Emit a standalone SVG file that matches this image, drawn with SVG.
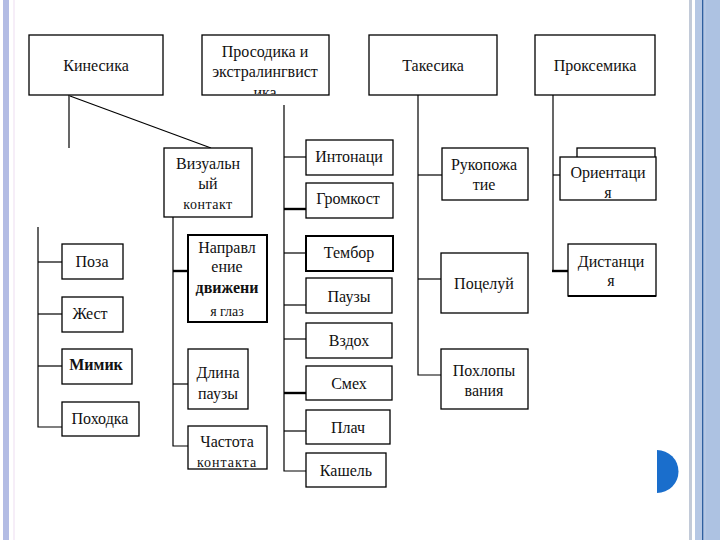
<svg xmlns="http://www.w3.org/2000/svg" width="720" height="540" viewBox="0 0 720 540">
<style>
.b{fill:#fff;stroke:#000;stroke-width:1.3}
.bt{fill:#fff;stroke:#000;stroke-width:2}
.t{font-family:'Liberation Serif','DejaVu Serif',serif;font-size:16px;fill:#111;text-anchor:middle}
.s{font-size:14px}
.c{stroke:#000;stroke-width:1.2;fill:none}
.ct{stroke:#000;stroke-width:2.4;fill:none}
</style>
<defs>
<clipPath id="clipPros"><rect x="202" y="35" width="127" height="59"/></clipPath>
</defs>
<rect x="0" y="0" width="720" height="540" fill="#fff"/>
<g id="frame">
<rect x="3" y="0" width="6" height="540" fill="#b3bce4"/>
<rect x="13" y="0" width="2" height="540" fill="#f6eef8"/>
<rect x="689" y="0" width="3" height="540" fill="#c2cad8"/>
<rect x="695" y="0" width="25" height="540" fill="#b5c7e4"/>
<rect x="702" y="0" width="1.3" height="540" fill="#2f5f9f"/>
<rect x="706" y="0" width="14" height="540" fill="#adc2e2"/>
<path d="M657,450 A21.5,21.5 0 0 1 657,493 Z" fill="#1a6ecc"/>
</g>
<g id="connectors">
<line class="c" x1="69" y1="95" x2="69" y2="148"/>
<line class="c" x1="70" y1="96" x2="211" y2="148"/>
<polyline class="c" points="38,227 38,427 62,427"/>
<line class="c" x1="38" y1="262" x2="62" y2="262"/>
<line class="c" x1="38" y1="314" x2="62" y2="314"/>
<line class="c" x1="38" y1="366" x2="62" y2="366"/>
<polyline class="c" points="173,217 173,446 188,446"/>
<line class="ct" x1="173" y1="271" x2="188" y2="271"/>
<line class="c" x1="173" y1="384" x2="188" y2="384"/>
<polyline class="c" points="284,105 284,471 306,471"/>
<line class="c" x1="284" y1="157" x2="306" y2="157"/>
<line class="ct" x1="284" y1="209" x2="315" y2="209"/>
<line class="c" x1="284" y1="253" x2="314" y2="253"/>
<line class="c" x1="284" y1="305" x2="306" y2="305"/>
<line class="c" x1="284" y1="339" x2="306" y2="339"/>
<line class="ct" x1="284" y1="393" x2="306" y2="393"/>
<line class="c" x1="284" y1="431" x2="306" y2="431"/>
<polyline class="c" points="418,95 418,375 441,375"/>
<line class="c" x1="418" y1="175" x2="442" y2="175"/>
<line class="c" x1="418" y1="279" x2="441" y2="279"/>
<polyline class="c" points="553,95 553,271"/>
<line class="c" x1="553" y1="175" x2="560" y2="175"/>
<line class="ct" x1="552" y1="271" x2="576" y2="271"/>
</g>
<g id="kinesika"><rect class="b" x="29" y="35" width="134" height="60"/><text class="t" x="96" y="71">Кинесика</text></g>
<g id="prosodika"><rect class="b" x="202" y="35" width="127" height="60"/>
<g clip-path="url(#clipPros)"><text class="t" x="265" y="57">Просодика и</text><text class="t" x="265" y="77">экстралингвист</text><text class="t" x="265" y="98">ика</text></g></g>
<g id="takesika"><rect class="b" x="369" y="35" width="128" height="60"/><text class="t" x="433" y="71">Такесика</text></g>
<g id="proksemika"><rect class="b" x="535" y="35" width="120" height="60"/><text class="t" x="595" y="71">Проксемика</text></g>
<g id="vizual"><rect class="b" x="164" y="148" width="88" height="69"/><text class="t" x="208" y="169">Визуальн</text><text class="t" x="208" y="189">ый</text><text class="t s" x="208" y="209" letter-spacing="0.5">контакт</text></g>
<g id="poza"><rect class="b" x="62" y="244" width="61" height="35"/><text class="t" x="92" y="267">Поза</text></g>
<g id="zhest"><rect class="b" x="62" y="297" width="61" height="35"/><text class="t" x="90" y="319">Жест</text></g>
<g id="mimik"><rect class="b" x="62" y="349" width="70" height="35"/><text class="t" x="96" y="370" font-weight="bold">Мимик</text></g>
<g id="pohodka"><rect class="b" x="62" y="402" width="77" height="34"/><text class="t" x="100" y="424">Походка</text></g>
<g id="napravlenie"><rect class="bt" x="188" y="235" width="79" height="87"/><text class="t" x="227" y="253">Направл</text><text class="t" x="227" y="272">ение</text><text class="t" x="227" y="293" font-weight="bold">движени</text><text class="t s" x="227" y="316">я глаз</text></g>
<g id="dlina"><rect class="b" x="188" y="349" width="60" height="60"/><text class="t" x="218" y="378">Длина</text><text class="t" x="218" y="399">паузы</text></g>
<g id="chastota"><rect class="b" x="188" y="426" width="79" height="43"/><text class="t" x="227" y="447">Частота</text><text class="t s" x="227" y="467" letter-spacing="1">контакта</text></g>
<g id="intonaci"><rect class="b" x="306" y="140" width="87" height="35"/><text class="t" x="349" y="162">Интонаци</text></g>
<g id="gromkost"><rect class="b" x="306" y="183" width="87" height="35"/><text class="t" x="348" y="204">Громкост</text></g>
<g id="tembor"><rect class="bt" x="306" y="236" width="87" height="35"/><text class="t" x="349" y="258">Тембор</text></g>
<g id="pauzy"><rect class="b" x="306" y="278" width="86" height="35"/><text class="t" x="349" y="302">Паузы</text></g>
<g id="vzdoh"><rect class="b" x="306" y="323" width="86" height="35"/><text class="t" x="349" y="346">Вздох</text></g>
<g id="smeh"><rect class="b" x="306" y="366" width="86" height="34"/><text class="t" x="349" y="389">Смех</text></g>
<g id="plach"><rect class="b" x="306" y="410" width="84" height="34"/><text class="t" x="348" y="433">Плач</text></g>
<g id="kashel"><rect class="b" x="306" y="453" width="80" height="34"/><text class="t" x="346" y="476">Кашель</text></g>
<g id="rukopozhatie"><rect class="b" x="442" y="148" width="86" height="52"/><text class="t" x="484" y="170">Рукопожа</text><text class="t" x="484" y="190">тие</text></g>
<g id="poceluy"><rect class="b" x="441" y="253" width="87" height="60"/><text class="t" x="484" y="289">Поцелуй</text></g>
<g id="pohlopyvaniya"><rect class="b" x="441" y="349" width="87" height="60"/><text class="t" x="484" y="376">Похлопы</text><text class="t" x="484" y="396">вания</text></g>
<g id="orientaciya"><rect class="b" x="577" y="148" width="78" height="20"/><rect class="b" x="560" y="157" width="96" height="43"/><text class="t" x="608" y="178">Ориентаци</text><text class="t" x="608" y="198" font-size="10">я</text></g>
<g id="distanciya"><rect class="b" x="568" y="244" width="88" height="52"/><line x1="568" y1="296" x2="656" y2="296" stroke="#000" stroke-width="2"/><text class="t" x="611" y="267">Дистанци</text><text class="t" x="611" y="286">я</text></g>
</svg>
